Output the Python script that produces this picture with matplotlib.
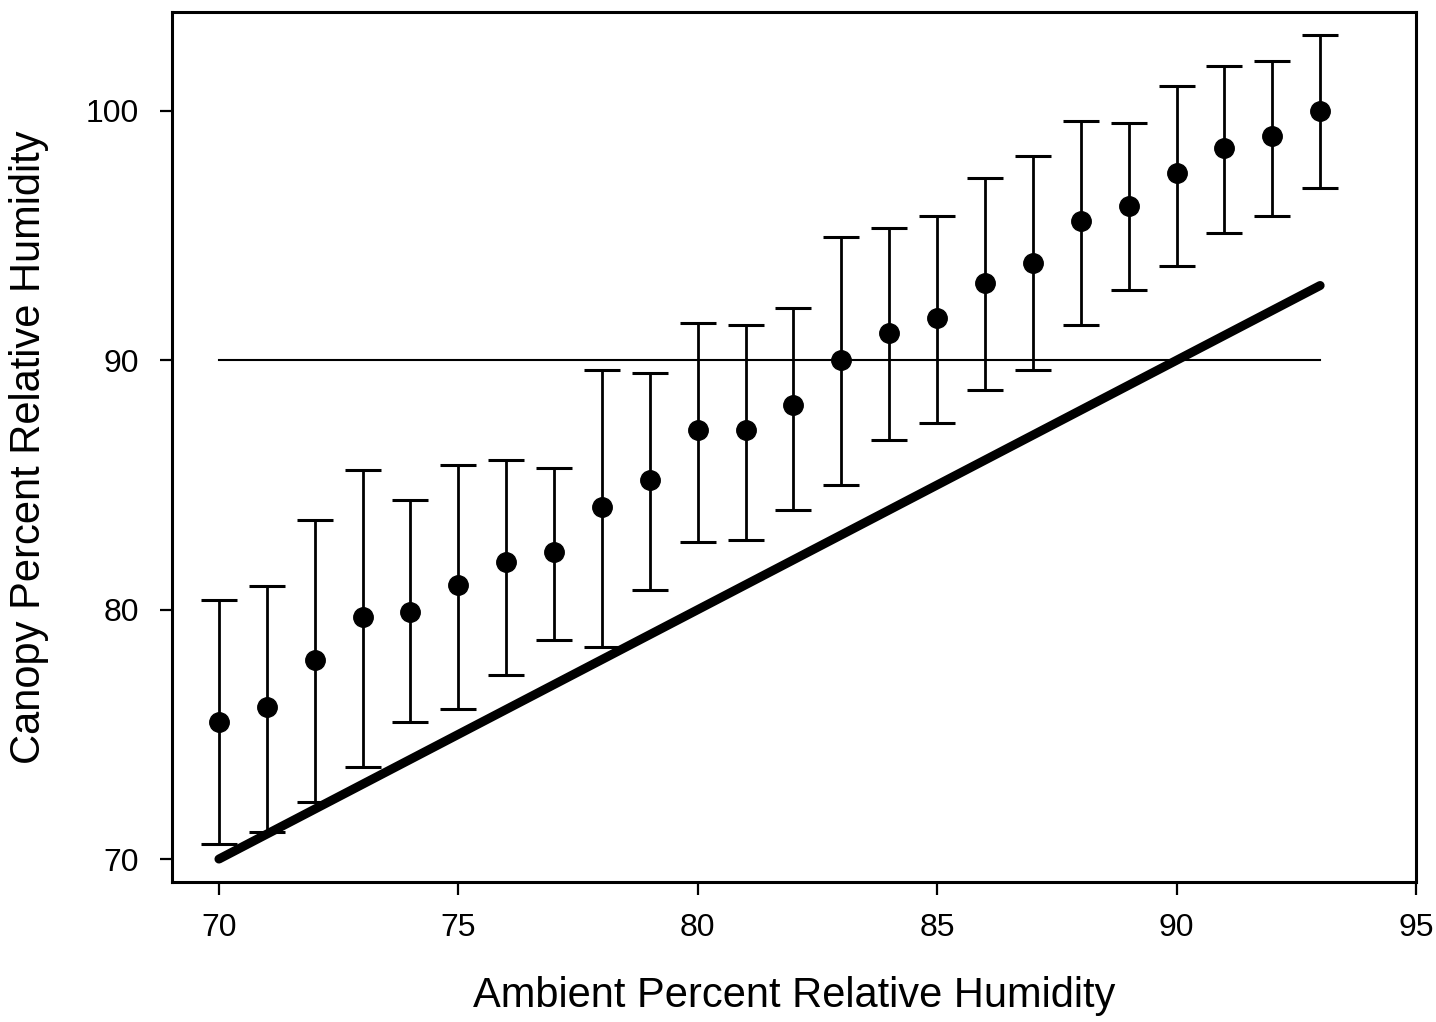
import matplotlib
matplotlib.use("Agg")
import matplotlib.pyplot as plt

ambient = [70, 71, 72, 73, 74, 75, 76, 77, 78, 79, 80, 81, 82, 83, 84, 85, 86, 87, 88, 89, 90, 91, 92, 93]
canopy_mean = [75.5, 76.1, 78.0, 79.7, 79.9, 81.0, 81.9, 82.3, 84.1, 85.2, 87.2, 87.2, 88.2, 90.0,
               91.1, 91.7, 93.1, 93.9, 95.6, 96.2, 97.5, 98.5, 99.0, 100.0]
canopy_upper = [80.4, 80.95, 83.6, 85.6, 84.4, 85.8, 86.0, 85.7, 89.6, 89.5, 91.5, 91.4, 92.1, 94.95,
                95.3, 95.8, 97.3, 98.2, 99.6, 99.5, 101.0, 101.8, 102.0, 103.05]
canopy_lower = [70.6, 71.1, 72.3, 73.7, 75.5, 76.0, 77.4, 78.8, 78.5, 80.8, 82.7, 82.8, 84.0, 85.0,
                86.8, 87.5, 88.8, 89.6, 91.4, 92.8, 93.8, 95.1, 95.8, 96.9]
ref_line_x = [70, 93]
threshold = 90
xticks = [70, 75, 80, 85, 90, 95]
yticks = [70, 80, 90, 100]

FONT = ['Liberation Sans', 'DejaVu Sans']
plt.rcParams['font.family'] = FONT

fig = plt.figure(figsize=(14.36, 10.22), dpi=100)
ax = fig.add_axes([0.1198, 0.137, 0.8662, 0.8513])

# identity line
ax.plot(ref_line_x, ref_line_x, color='black', lw=6.5, solid_capstyle='round', zorder=2)
# threshold line
ax.plot(ref_line_x, [threshold, threshold], color='black', lw=1.5, zorder=2)

yerr_lo = [m - l for m, l in zip(canopy_mean, canopy_lower)]
yerr_hi = [u - m for m, u in zip(canopy_mean, canopy_upper)]
ax.errorbar(ambient, canopy_mean, yerr=[yerr_lo, yerr_hi], fmt='o', color='black',
            markersize=14, elinewidth=2, capsize=13, capthick=2.2, zorder=3)

ax.set_xlim(69.02, 95)
ax.set_ylim(69.08, 103.97)
ax.set_xticks(xticks)
ax.set_yticks(yticks)
ax.tick_params(direction='out', length=9, width=1.6, labelsize=23)
ax.tick_params(axis='x', pad=13)
ax.tick_params(axis='y', pad=15)
for s in ax.spines.values():
    s.set_linewidth(2.2)

ax.set_xlabel('Ambient Percent Relative Humidity', fontsize=30, labelpad=24)
ax.set_ylabel('Canopy Percent Relative Humidity', fontsize=30, labelpad=26)

fig.savefig('out.png', dpi=100)
